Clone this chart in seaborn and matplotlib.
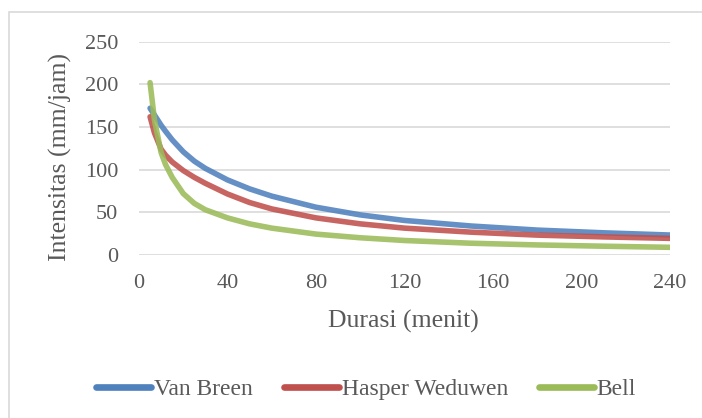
import matplotlib
matplotlib.use("Agg")
import matplotlib.pyplot as plt
import seaborn as sns
import pandas as pd
from matplotlib.patches import Rectangle
from matplotlib.lines import Line2D

# Data
durasi = [5, 7, 10, 12, 15, 20, 25, 30, 40, 50, 60, 80, 100, 120, 150, 180, 210, 240]
van_breen = [172, 164, 152, 145, 135, 121, 110, 101.5, 88, 77.5, 69, 56, 47, 40.5, 34, 29.2, 26, 23.4]
hasper_weduwen = [162, 143, 124, 117, 109, 99, 91, 84, 71.5, 61.5, 54, 43.5, 36.5, 31.5, 26.8, 23.3, 21.2, 19.5]
bell = [202, 158, 120, 106, 91, 72, 60.5, 53, 43.5, 36.5, 31.5, 24.5, 20.2, 17, 13.8, 11.8, 10.3, 9]
series_names = ["Van Breen", "Hasper Weduwen", "Bell"]
x_ticks = [0, 40, 80, 120, 160, 200, 240]
y_ticks = [0, 50, 100, 150, 200, 250]

df = pd.concat([
    pd.DataFrame({"Durasi": durasi, "Intensitas": vals, "Metode": name})
    for name, vals in zip(series_names, [van_breen, hasper_weduwen, bell])
])

sns.set_theme(style="white")
plt.rcParams["font.family"] = ["Liberation Serif", "DejaVu Serif"]
text_color = "#595959"

W, H = 702, 418
fig = plt.figure(figsize=(W / 100, H / 100), dpi=100)
left, right, top, bottom = 139, 670, 41.7, 255
ax = fig.add_axes([left / W, 1 - bottom / H, (right - left) / W, (bottom - top) / H])

palette = ["#4F81BD", "#C0504D", "#9BBB59"]
sns.lineplot(data=df, x="Durasi", y="Intensitas", hue="Metode", palette=palette,
             linewidth=4.0, ax=ax, legend=False, zorder=3)
for ln in ax.get_lines():
    ln.set_solid_capstyle("round")
    ln.set_solid_joinstyle("round")
    ln.set_alpha(0.88)

ax.set_xlim(0, 240)
ax.set_ylim(0, 250)
ax.set_xticks(x_ticks)
ax.set_yticks(y_ticks)
ax.yaxis.grid(True, color="#D9D9D9", linewidth=1.2)
ax.xaxis.grid(False)
for s in ax.spines.values():
    s.set_visible(False)
ax.tick_params(axis="both", length=0, labelsize=16, colors=text_color)
ax.tick_params(axis="y", pad=15)
ax.tick_params(axis="x", pad=14)
ax.set_xlabel("Durasi (menit)", fontsize=18.5, color=text_color)
ax.set_ylabel("Intensitas (mm/jam)", fontsize=18.5, color=text_color)
ax.xaxis.label.set_va("center")
ax.xaxis.set_label_coords(0.498, (bottom - 321) / (bottom - top))
ax.yaxis.label.set_va("center")
ax.yaxis.label.set_ha("center")
ax.yaxis.set_label_coords((60 - left) / (right - left), (bottom - 157) / (bottom - top))

# outer chart border
fig.patches.append(Rectangle((9 / W, -0.1), 1.2, 1 - 12 / H + 0.1, transform=fig.transFigure,
                             fill=False, edgecolor="#D9D9D9", linewidth=1.2))

handles = [Line2D([], [], color=c, linewidth=4.8, solid_capstyle="round") for c in palette]
leg = fig.legend(handles, series_names, loc="center", bbox_to_anchor=(366 / W, 1 - 389 / H),
                 ncol=3, frameon=False, fontsize=17, handlelength=2.33, handletextpad=0.13,
                 columnspacing=1.3)
for t in leg.get_texts():
    t.set_color(text_color)

fig.savefig("out.png", dpi=100)
